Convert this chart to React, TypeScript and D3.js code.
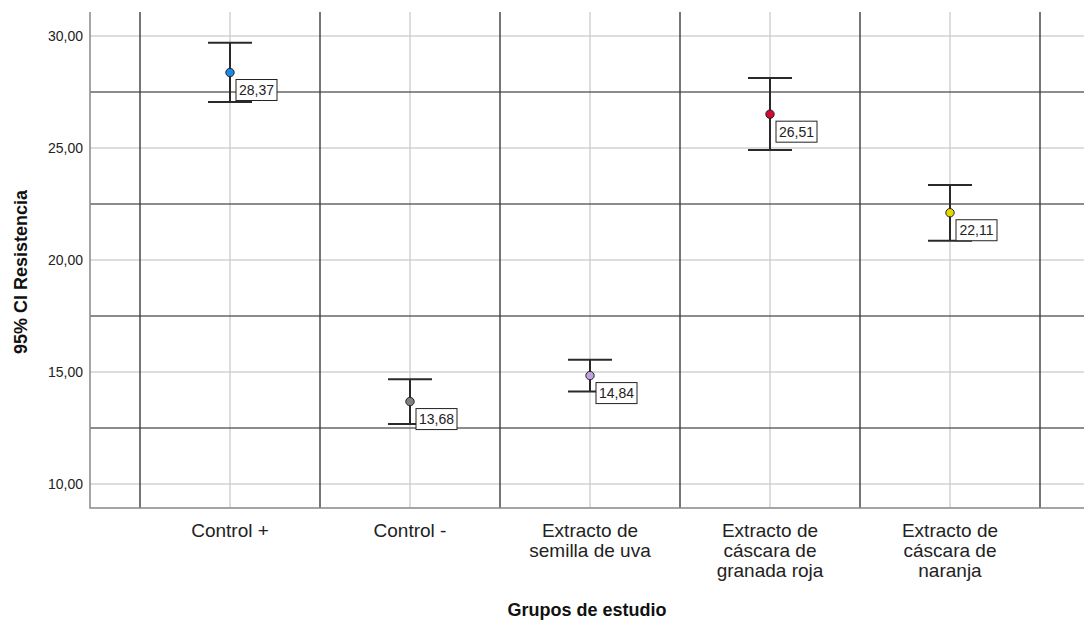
import { useEffect, useRef } from 'react'
import * as d3 from 'd3'

const WIDTH = 1084
const HEIGHT = 623

// groups on the x axis, each label split into the lines SPSS wraps it into
const GROUPS = [
  'Control +',
  'Control -',
  'Extracto de semilla de uva',
  'Extracto de cáscara de granada roja',
  'Extracto de cáscara de naranja',
]
const GROUP_LINES = [
  ['Control +'],
  ['Control -'],
  ['Extracto de', 'semilla de uva'],
  ['Extracto de', 'cáscara de', 'granada roja'],
  ['Extracto de', 'cáscara de', 'naranja'],
]
const MEANS = [28.37, 13.68, 14.84, 26.51, 22.11]
const CI_LOW = [27.05, 12.68, 14.13, 24.91, 20.86]
const CI_HIGH = [29.7, 14.68, 15.55, 28.12, 23.35]
const MARKER_COLORS = ['#1e88e5', '#808080', '#c3a0e0', '#d40a35', '#e6d600']

const Y_TICKS = [10, 15, 20, 25, 30]
const Y_MINOR = [12.5, 17.5, 22.5, 27.5]

interface GroupDatum {
  name: string
  lines: string[]
  mean: number
  low: number
  high: number
  color: string
}

const fmt = (v: number) => v.toFixed(2).replace('.', ',')

function ErrorBarChart() {
  const svgRef = useRef<SVGSVGElement | null>(null)

  useEffect(() => {
    if (!svgRef.current) {
      return
    }

    const plot = { left: 90, right: WIDTH, top: 12, bottom: 508 }
    const svg = d3.select(svgRef.current)
    svg.selectAll('*').remove()

    const data: GroupDatum[] = GROUPS.map((name, i) => ({
      name,
      lines: GROUP_LINES[i],
      mean: MEANS[i],
      low: CI_LOW[i],
      high: CI_HIGH[i],
      color: MARKER_COLORS[i],
    }))

    const x = d3.scaleBand<string>().domain(GROUPS).range([140, 1040]).padding(0)
    const y = d3
      .scaleLinear()
      .domain([10 - 24 / 22.4, 30 + 24 / 22.4])
      .range([plot.bottom, plot.top])

    const center = (name: string) => (x(name) ?? 0) + x.bandwidth() / 2
    const bounds = [...GROUPS.map((g) => x(g) ?? 0), x.range()[1]]

    const root = svg.append('g')

    // light grid on the major ticks
    root
      .selectAll('line.grid-h')
      .data(Y_TICKS)
      .enter()
      .append('line')
      .attr('x1', plot.left)
      .attr('x2', plot.right)
      .attr('y1', (d: number) => y(d))
      .attr('y2', (d: number) => y(d))
      .attr('stroke', '#d2d2d2')
      .attr('stroke-width', 1.5)

    root
      .selectAll('line.grid-v')
      .data(GROUPS)
      .enter()
      .append('line')
      .attr('x1', (d: string) => center(d))
      .attr('x2', (d: string) => center(d))
      .attr('y1', plot.top)
      .attr('y2', plot.bottom)
      .attr('stroke', '#d2d2d2')
      .attr('stroke-width', 1.5)

    // dark grid between ticks and between groups
    root
      .selectAll('line.minor-h')
      .data(Y_MINOR)
      .enter()
      .append('line')
      .attr('x1', plot.left)
      .attr('x2', plot.right)
      .attr('y1', (d: number) => y(d))
      .attr('y2', (d: number) => y(d))
      .attr('stroke', '#666666')
      .attr('stroke-width', 1.4)

    root
      .selectAll('line.bound-v')
      .data(bounds)
      .enter()
      .append('line')
      .attr('x1', (d: number) => d)
      .attr('x2', (d: number) => d)
      .attr('y1', plot.top)
      .attr('y2', plot.bottom)
      .attr('stroke', '#3c3c3c')
      .attr('stroke-width', 1.4)

    // axes
    root
      .append('path')
      .attr('d', `M${plot.left},${plot.top}V${plot.bottom}H${plot.right}`)
      .attr('fill', 'none')
      .attr('stroke', '#888888')
      .attr('stroke-width', 1.5)

    root
      .selectAll('text.y-tick')
      .data(Y_TICKS)
      .enter()
      .append('text')
      .attr('x', 83)
      .attr('y', (d: number) => y(d) + 5)
      .attr('text-anchor', 'end')
      .attr('font-size', 14)
      .attr('fill', '#222')
      .text((d: number) => fmt(d))

    const xLabels = root
      .selectAll('text.x-label')
      .data(data)
      .enter()
      .append('text')
      .attr('text-anchor', 'middle')
      .attr('font-size', 19)
      .attr('fill', '#222')

    xLabels
      .selectAll('tspan')
      .data((d: GroupDatum) => d.lines.map((line) => ({ line, cx: center(d.name) })))
      .enter()
      .append('tspan')
      .attr('x', (d: { cx: number }) => d.cx)
      .attr('y', (_: unknown, i: number) => 537 + i * 20)
      .text((d: { line: string }) => d.line)

    root
      .append('text')
      .attr('x', (plot.left + plot.right) / 2)
      .attr('y', 616)
      .attr('text-anchor', 'middle')
      .attr('font-size', 18)
      .attr('font-weight', 700)
      .attr('fill', '#111')
      .text('Grupos de estudio')

    root
      .append('text')
      .attr('transform', `translate(27, 272) rotate(-90)`)
      .attr('text-anchor', 'middle')
      .attr('font-size', 18)
      .attr('font-weight', 700)
      .attr('fill', '#111')
      .text('95% CI Resistencia')

    // error bars
    const bars = root.selectAll('g.bar').data(data).enter().append('g')

    bars
      .append('line')
      .attr('x1', (d: GroupDatum) => center(d.name))
      .attr('x2', (d: GroupDatum) => center(d.name))
      .attr('y1', (d: GroupDatum) => y(d.low))
      .attr('y2', (d: GroupDatum) => y(d.high))
      .attr('stroke', '#2a2a2a')
      .attr('stroke-width', 2)

    bars
      .selectAll('line.cap')
      .data((d: GroupDatum) => [d.low, d.high].map((v) => ({ v, cx: center(d.name) })))
      .enter()
      .append('line')
      .attr('x1', (d: { cx: number }) => d.cx - 22)
      .attr('x2', (d: { cx: number }) => d.cx + 22)
      .attr('y1', (d: { v: number }) => y(d.v))
      .attr('y2', (d: { v: number }) => y(d.v))
      .attr('stroke', '#2a2a2a')
      .attr('stroke-width', 2)

    bars
      .append('circle')
      .attr('cx', (d: GroupDatum) => center(d.name))
      .attr('cy', (d: GroupDatum) => y(d.mean))
      .attr('r', 4.2)
      .attr('fill', (d: GroupDatum) => d.color)
      .attr('stroke', '#222')
      .attr('stroke-width', 1)

    bars
      .append('rect')
      .attr('x', (d: GroupDatum) => center(d.name) + 6)
      .attr('y', (d: GroupDatum) => y(d.mean) + 7)
      .attr('width', 41)
      .attr('height', 21)
      .attr('fill', '#fff')
      .attr('stroke', '#222')
      .attr('stroke-width', 1)

    bars
      .append('text')
      .attr('x', (d: GroupDatum) => center(d.name) + 26.5)
      .attr('y', (d: GroupDatum) => y(d.mean) + 22.5)
      .attr('text-anchor', 'middle')
      .attr('font-size', 14)
      .attr('fill', '#222')
      .text((d: GroupDatum) => fmt(d.mean))
  }, [])

  return (
    <svg
      ref={svgRef}
      width={WIDTH}
      height={HEIGHT}
      viewBox={`0 0 ${WIDTH} ${HEIGHT}`}
      style={{
        position: 'absolute',
        left: 0,
        top: 0,
        fontFamily: 'Arial, "Liberation Sans", sans-serif',
        background: '#fff',
      }}
    />
  )
}

export default function App() {
  return <ErrorBarChart />
}
